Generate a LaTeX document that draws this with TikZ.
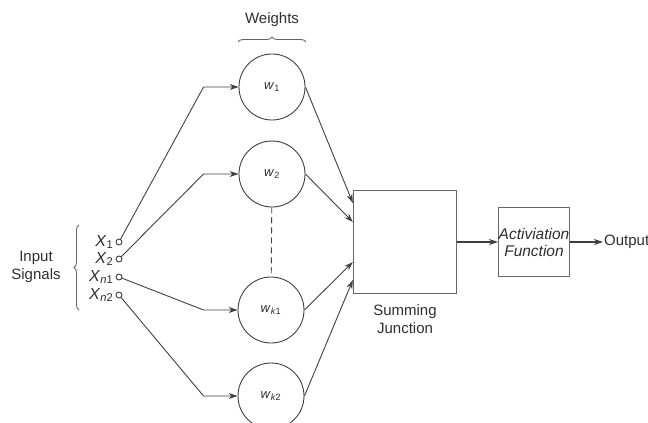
\documentclass[tikz,border=0pt]{standalone}
\usepackage{fontspec}
\setmainfont{Liberation Sans}
\usetikzlibrary{arrows.meta,decorations.pathreplacing,positioning}

\definecolor{ink}{HTML}{2E2E2E}
\definecolor{wirecol}{HTML}{404040}

\tikzset{
  weight/.style={draw=wirecol, line width=0.9pt, circle, minimum size=66pt, inner sep=0pt, font=\fontsize{13}{15}\selectfont},
  port/.style={draw=wirecol, line width=0.9pt, circle, minimum size=6pt, inner sep=0pt},
  xlabel/.style={inner sep=1pt, font=\fontsize{16}{16}\selectfont},
  box/.style={draw=wirecol!80, line width=1.3pt, inner sep=0pt},
  wire/.style={draw=wirecol, line width=0.9pt},
  feed/.style={wire, -{Stealth[length=9pt,width=6pt]}},
  bracket/.style={draw=wirecol!80, line width=0.9pt, decorate, decoration={brace, amplitude=5pt}},
}

\begin{document}
\begin{tikzpicture}[x=1pt, y=-1pt, font=\fontsize{15}{18}\selectfont, text=ink]
  \useasboundingbox (0,0) rectangle (648,423);

  % inputs
  \node[port] (x1)  at (119,242) {};
  \node[port] (x2)  at (119,259) {};
  \node[port] (xn1) at (119,277) {};
  \node[port] (xn2) at (119,295) {};
  \node[xlabel, left=1pt of x1] (lx1)  {\textit{X}\textsubscript{1}};
  \node[xlabel, left=1pt of x2] (lx2)  {\textit{X}\textsubscript{2}};
  \node[xlabel, left=1pt of xn1] (lxn1) {\textit{X}\textsubscript{\textit{n}1}};
  \node[xlabel, left=1pt of xn2] (lxn2) {\textit{X}\textsubscript{\textit{n}2}};
  \node[align=center] (insig) at (36,267) {Input\\Signals};
  \coordinate (ib1) at (79,310);
  \coordinate (ib2) at (79,225);
  \draw[bracket] (ib1) -- (ib2);

  % weights
  \node[weight] (w1)  at (272,87)  {\textit{w}\textsubscript{1}};
  \node[weight] (w2)  at (272,174) {\textit{w}\textsubscript{2}};
  \node[weight] (wk1) at (271,310) {\textit{w}\textsubscript{\textit{k}1}};
  \node[weight] (wk2) at (271,396) {\textit{w}\textsubscript{\textit{k}2}};
  \node (wts) at (272,20) {Weights};
  \coordinate (wb1) at (238,42);
  \coordinate (wb2) at (306,42);
  \draw[bracket] (wb1) -- (wb2);
  \draw[wire, dashed, dash pattern=on 6pt off 4pt] (w2) -- (wk1);

  % junction and activation
  \node[box, minimum width=103pt, minimum height=103pt] (sum) at (405,242) {};
  \node[align=center, below=7pt of sum] (sumlbl) {Summing\\Junction};
  \node[box, minimum width=68pt, minimum height=69pt, align=center, font=\fontsize{15.5}{17}\selectfont\itshape] (act) at (534,242) {Activiation\\Function};
  \node[anchor=west, inner sep=1pt] (out) at (603,242) {Output};

  % connections
  \draw[feed] (x1)  -- ([xshift=-35pt]w1.west)  -- (w1);
  \draw[feed] (x2)  -- ([xshift=-35pt]w2.west)  -- (w2);
  \draw[feed] (xn1) -- ([xshift=-34pt]wk1.west) -- (wk1);
  \draw[feed] (xn2) -- ([xshift=-34pt]wk2.west) -- (wk2);
  \draw[feed] (w1.east)  -- ([yshift=39pt]sum.west);
  \draw[feed] (w2.east)  -- ([yshift=20pt]sum.west);
  \draw[feed] (wk1.east) -- ([yshift=-20pt]sum.west);
  \draw[feed] (wk2.east) -- ([yshift=-38pt]sum.west);
  \draw[feed, line width=1.8pt] (sum) -- (act);
  \draw[feed, line width=1.3pt] (act) -- (out);
\end{tikzpicture}
\end{document}
